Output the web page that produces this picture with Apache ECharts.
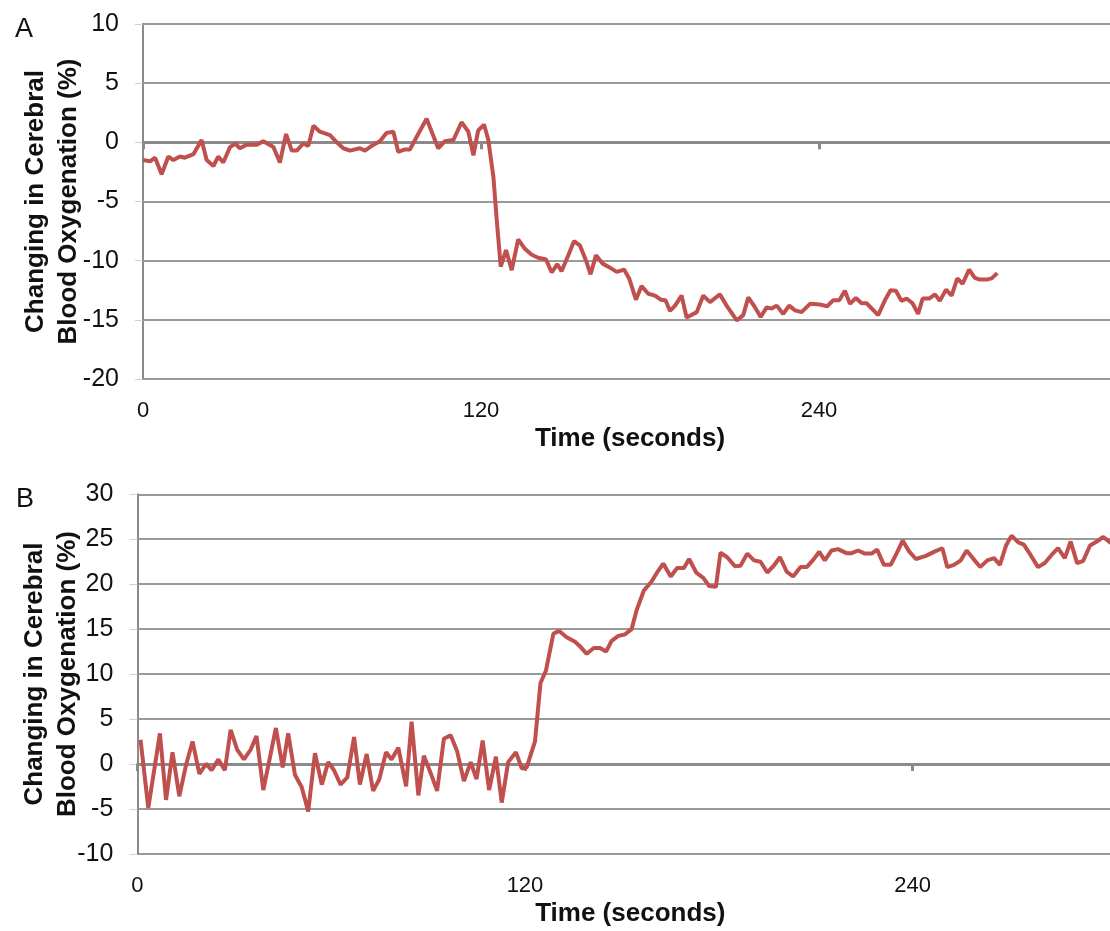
<!DOCTYPE html>
<html>
<head>
<meta charset="utf-8">
<script src="https://cdn.jsdelivr.net/npm/echarts@6/dist/echarts.min.js"></script>
<style>
html,body{margin:0;padding:0;background:#fff;}
#chart{width:1110px;height:931px;}
</style>
</head>
<body>
<div id="chart"></div>
<script>
// ---- Data ----
var xTicks = [0, 120, 240];
var panelLabels = ['A', 'B'];
var xAxisTitle = 'Time (seconds)';
var yAxisTitle = 'Changing in Cerebral\nBlood Oxygenation (%)';

var timeA = [0,2.5,4.3,6.6,9.0,10.8,13.1,14.9,17.9,20.8,22.6,25.0,26.7,28.5,30.9,32.7,34.4,36.8,40.4,42.7,46.3,48.6,50.8,52.8,54.6,56.9,58.7,60.5,62.8,66.4,68.8,71.1,73.5,77.0,78.8,81.2,84.1,86.5,88.9,90.6,93.0,94.8,97.7,100.7,102.5,104.8,107.2,110.2,113.1,115.5,117.3,119.0,121.1,122.6,124.4,125.6,127.0,128.9,130.9,133.2,135.6,138.0,140.3,143.1,145.1,147.1,148.6,151.0,153.0,155.1,157.3,158.9,160.8,163.2,165.5,168.2,170.8,172.6,175.0,177.0,179.4,181.8,183.8,185.5,187.1,188.9,191.2,193.0,196.6,198.9,201.3,204.8,207.2,210.8,213.1,214.9,217.3,219.3,221.4,223.2,225.0,227.3,229.4,231.5,233.8,236.8,240.3,242.9,245.0,247.2,249.2,251.0,253.1,255.1,256.9,261.0,263.4,265.4,267.3,269.3,271.1,273.2,275.2,276.8,279.1,281.2,282.9,285.1,287.1,289.1,291.0,293.3,295.3,297.1,299.5,301.3,303.3];
var valueA = [-1.5,-1.6,-1.3,-2.7,-1.2,-1.5,-1.2,-1.3,-1.0,0.2,-1.5,-2.0,-1.2,-1.7,-0.4,-0.1,-0.5,-0.2,-0.2,0.1,-0.4,-1.7,0.7,-0.7,-0.7,-0.1,-0.3,1.4,0.9,0.6,0.0,-0.5,-0.7,-0.5,-0.7,-0.3,0.1,0.8,0.9,-0.8,-0.6,-0.6,0.7,2.0,0.9,-0.5,0.1,0.2,1.7,0.9,-1.1,1.0,1.5,0.2,-2.9,-6.6,-10.5,-9.1,-10.8,-8.2,-9.0,-9.5,-9.75,-9.9,-11.0,-10.3,-10.9,-9.55,-8.35,-8.7,-10.0,-11.15,-9.55,-10.25,-10.55,-10.95,-10.75,-11.5,-13.3,-12.15,-12.8,-12.95,-13.3,-13.35,-14.25,-13.8,-12.95,-14.8,-14.35,-12.95,-13.5,-12.85,-13.8,-15.05,-14.6,-13.1,-13.95,-14.75,-13.95,-14.05,-13.8,-14.5,-13.8,-14.2,-14.35,-13.65,-13.7,-13.85,-13.35,-13.35,-12.55,-13.65,-13.15,-13.6,-13.6,-14.6,-13.35,-12.5,-12.55,-13.4,-13.2,-13.6,-14.5,-13.2,-13.2,-12.85,-13.4,-12.45,-12.95,-11.5,-11.95,-10.75,-11.45,-11.6,-11.6,-11.5,-11.05];

var timeB = [1,3.4,7.0,8.9,10.9,13.0,15.1,17.1,19.2,21.3,23.0,25.1,27.1,28.9,30.9,33.0,35.1,36.9,39.0,41.1,42.9,45.0,46.7,48.8,50.9,52.9,55.0,57.1,59.1,60.9,62.9,65.0,67.1,68.9,71.0,73.0,74.9,77.0,78.7,80.8,83.2,84.9,87.0,88.7,90.8,92.8,94.9,97.0,99.0,101.1,103.2,105.0,106.9,108.9,111.0,112.8,114.8,117.2,119.0,120.5,123.1,124.8,126.5,128.8,130.6,132.9,135.5,137.0,139.1,141.3,143.2,145.1,146.8,148.9,150.9,153.0,154.6,156.8,159.2,160.9,162.8,165.1,167.1,169.2,170.8,173.1,175.2,177.0,179.1,180.5,182.6,185.0,186.7,188.8,190.9,192.9,195.0,197.0,198.9,201.0,203.0,205.3,207.2,209.2,211.1,212.8,214.9,216.9,219.5,221.1,223.1,225.2,227.3,229.0,231.1,233.2,235.0,236.9,238.9,241.0,244.1,246.9,249.2,250.7,252.8,254.9,256.7,258.6,260.9,263.1,265.2,267.0,268.9,270.6,272.7,274.4,276.5,278.8,280.9,283.0,285.0,287.1,288.9,290.9,292.8,294.9,297.0,299.0,301.1,303.0];
var valueB = [2.7,-4.9,3.4,-4.0,1.3,-3.6,-0.1,2.5,-1.1,0.0,-0.7,0.5,-0.7,3.8,1.6,0.5,1.6,3.1,-2.9,0.8,4.0,-0.4,3.4,-1.2,-2.6,-5.3,1.2,-2.3,0.2,-0.7,-2.3,-1.5,3.0,-2.3,1.1,-3.0,-1.7,1.3,0.5,1.8,-2.5,4.7,-3.5,0.9,-1.0,-3.0,2.8,3.2,1.4,-1.9,0.2,-1.7,2.6,-2.9,0.8,-4.3,0.2,1.3,-0.5,-0.4,2.5,9.0,10.4,14.5,14.8,14.1,13.6,13.1,12.25,12.9,12.9,12.5,13.7,14.25,14.4,15.0,17.15,19.3,20.3,21.3,22.3,20.85,21.8,21.8,22.8,21.25,20.7,19.8,19.7,23.5,23.0,22.0,22.05,23.4,22.65,22.5,21.3,22.05,23.0,21.4,20.85,21.9,21.9,22.7,23.6,22.65,23.75,23.9,23.45,23.45,23.75,23.4,23.4,23.85,22.15,22.15,23.4,24.85,23.65,22.8,23.15,23.65,24.0,21.9,22.15,22.65,23.75,22.9,21.9,22.65,22.9,22.15,24.3,25.4,24.65,24.4,23.25,21.9,22.35,23.25,24.0,22.9,24.75,22.35,22.6,24.3,24.75,25.25,24.65,24.3];

// ---- Helpers ----
function zip(t, v) { return t.map(function (x, i) { return [x, v[i]]; }); }
var FONT = '"Liberation Sans", Arial, sans-serif';
var RED = '#c0504d';
var GRID_GRAY = '#9a9a9a';
var AXIS_GRAY = '#8a8a8a';

function labelAxis(gridIndex, max) {
  return {
    type: 'value', gridIndex: gridIndex, position: 'bottom',
    min: 0, max: max, interval: xTicks[1] - xTicks[0],
    axisLine: { show: false, onZero: false },
    axisTick: { show: false },
    splitLine: { show: false },
    axisLabel: {
      show: true, fontFamily: FONT, fontSize: 22, color: '#111', margin: 21,
      showMaxLabel: false,
      formatter: function (v) { return xTicks.indexOf(v) >= 0 ? String(v) : ''; }
    },
    name: xAxisTitle, nameLocation: 'middle', nameGap: 47, nameMoveOverlap: false,
    nameTextStyle: { fontFamily: FONT, fontSize: 26, fontWeight: 'bold', color: '#111' }
  };
}
function zeroAxis(gridIndex, max) {
  return {
    type: 'value', gridIndex: gridIndex, position: 'top',
    min: 0, max: max, interval: xTicks[1] - xTicks[0],
    axisLine: { show: true, onZero: true, lineStyle: { color: AXIS_GRAY, width: 3 } },
    axisTick: { show: true, inside: true, length: 7, lineStyle: { color: AXIS_GRAY, width: 3 } },
    axisLabel: { show: false },
    splitLine: { show: false }
  };
}
function yAxis(gridIndex, min, max, gap) {
  return {
    type: 'value', gridIndex: gridIndex, min: min, max: max, interval: 5,
    axisLine: { show: true, onZero: false, lineStyle: { color: AXIS_GRAY, width: 2 } },
    axisTick: { show: true, length: 8, lineStyle: { color: '#d0d0d0', width: 1 } },
    splitLine: { show: true, lineStyle: { color: GRID_GRAY, width: 2 } },
    axisLabel: { fontFamily: FONT, fontSize: 25, color: '#111', margin: 24 },
    name: yAxisTitle, nameLocation: 'middle', nameGap: gap, nameMoveOverlap: false,
    nameTextStyle: { fontFamily: FONT, fontSize: 26, fontWeight: 'bold', color: '#111', lineHeight: 33 }
  };
}

var maxA = 345.8, maxB = 305.2;

var chart = echarts.init(document.getElementById('chart'), null, { renderer: 'canvas' });
chart.setOption({
  backgroundColor: '#ffffff',
  animation: false,
  title: [
    { text: panelLabels[0], left: 10, top: 11, textStyle: { fontFamily: FONT, fontSize: 27, fontWeight: 'normal', color: '#111' } },
    { text: panelLabels[1], left: 11, top: 481, textStyle: { fontFamily: FONT, fontSize: 27, fontWeight: 'normal', color: '#111' } }
  ],
  grid: [
    { left: 143, top: 24, width: 974, height: 355, containLabel: false, outerBoundsMode: 'none' },
    { left: 137.3, top: 494.3, width: 986, height: 359.5, containLabel: false, outerBoundsMode: 'none' }
  ],
  xAxis: [labelAxis(0, maxA), zeroAxis(0, maxA), labelAxis(1, maxB), zeroAxis(1, maxB)],
  yAxis: [yAxis(0, -20, 10, 58), yAxis(1, -10, 30, 53)],
  series: [
    {
      type: 'line', xAxisIndex: 0, yAxisIndex: 0, data: zip(timeA, valueA),
      showSymbol: false, symbol: 'none', lineStyle: { color: RED, width: 4 }, z: 5
    },
    {
      type: 'line', xAxisIndex: 2, yAxisIndex: 1, data: zip(timeB, valueB),
      showSymbol: false, symbol: 'none', lineStyle: { color: RED, width: 4 }, z: 5
    }
  ]
});
</script>
</body>
</html>
